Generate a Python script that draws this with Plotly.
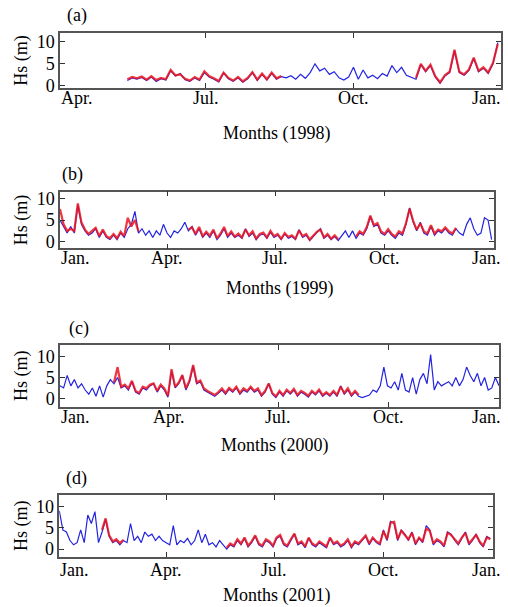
import pandas as pd
import plotly.graph_objects as go

# ---------------- data (Hs in metres, 3-day sampling) ----------------
# Panel (a) 1998
blue_a_start = "1998-05-13"
blue_a = [1.2, 1.8, 1.5, 1.9, 1.2, 2.0, 1.0, 1.6, 1.3, 3.4, 2.2, 2.8, 1.4, 1.0, 1.8, 1.2,
          3.0, 2.0, 1.5, 0.9, 2.9, 1.6, 1.0, 1.8, 0.8, 1.6, 3.0, 1.2, 2.6, 1.3, 2.8, 1.5,
          2.1, 1.8, 2.3, 1.5, 2.6, 1.7, 3.0, 5.0, 3.4, 4.0, 2.6, 3.2, 1.8, 1.3, 2.0, 4.2,
          1.5, 3.6, 1.8, 2.4, 1.6, 2.8, 2.2, 4.6, 3.0, 4.2, 2.4, 2.0, 1.5, 4.8, 3.2, 4.6,
          2.0, 0.6, 2.2, 3.0, 8.0, 3.0, 2.4, 3.5, 6.2, 3.2, 4.0, 2.8, 5.0, 9.8]
red_a_starts = ["1998-05-13", "1998-11-09"]
red_a_vals = [
    [1.5, 2.0, 1.7, 2.1, 1.4, 2.2, 1.3, 1.8, 1.5, 3.6, 2.4, 2.6, 1.6, 1.2, 2.0, 1.4,
     3.3, 2.2, 1.7, 1.1, 3.0, 1.8, 1.2, 2.0, 1.0, 1.8, 3.1, 1.4, 2.8, 1.5, 3.0, 1.7, 2.2],
    [1.8, 5.0, 3.4, 4.8, 2.2, 0.8, 2.4, 3.2, 8.2, 3.2, 2.6, 3.7, 6.4, 3.4, 4.2, 3.0,
     5.2, 9.5],
]

# Panel (b) 1999
blue_b_start = "1999-01-01"
blue_b = [5.0, 3.5, 2.0, 3.5, 2.0, 8.5, 4.0, 2.5, 1.5, 2.0, 3.0, 1.0, 2.5, 1.0, 0.5, 1.5,
          0.5, 2.0, 1.0, 3.0, 4.0, 7.0, 2.0, 3.0, 1.5, 2.5, 1.0, 2.5, 1.5, 4.0, 2.0, 1.0,
          2.5, 2.0, 3.0, 4.5, 2.5, 3.5, 1.5, 3.0, 1.0, 2.0, 1.0, 2.5, 0.5, 1.5, 3.0, 1.0,
          2.0, 1.0, 1.5, 0.8, 3.0, 1.2, 2.0, 0.5, 1.5, 1.8, 0.8, 2.2, 1.0, 1.5, 0.5, 1.8,
          0.8, 1.2, 0.5, 2.8, 1.0, 1.5, 0.3, 1.2, 2.0, 3.0, 0.8, 1.5, 0.5, 1.2, 0.3, 1.5,
          2.5, 1.0, 2.5, 0.8, 2.0, 1.5, 3.0, 5.8, 3.5, 4.0, 2.0, 1.5, 2.5, 1.5, 0.8, 2.0,
          1.5, 4.0, 7.8, 4.5, 2.5, 4.5, 2.0, 1.5, 3.5, 1.5, 2.5, 2.0, 3.0, 2.0, 1.5, 3.0,
          2.0, 1.5, 4.0, 5.5, 3.0, 1.5, 2.0, 5.5, 5.0, 0.5]
red_b_starts = ["1999-01-01", "1999-04-19", "1999-09-07"]
red_b_vals = [
    [7.5, 4.0, 2.5, 3.0, 2.5, 8.8, 4.5, 2.8, 1.8, 2.4, 3.2, 1.3, 2.8, 1.3, 0.8, 1.8,
     0.8, 2.3, 1.3, 5.5, 3.5, 5.0, 2.4],
    [2.8, 3.3, 1.8, 3.4, 1.3, 2.3, 1.4, 2.8, 0.8, 1.9, 3.4, 1.3, 2.4, 1.2, 1.9, 1.0,
     2.8, 1.5, 2.4, 0.7, 1.8, 2.1, 1.0, 2.5, 1.3, 1.8, 0.7, 2.0, 1.1, 1.5, 0.7, 2.6,
     1.3, 1.8, 0.5, 1.5, 2.3, 2.8, 1.0, 1.8, 0.7, 1.5, 0.6],
    [1.2, 2.4, 1.8, 3.4, 6.0, 3.8, 4.3, 2.4, 1.8, 2.9, 1.8, 1.2, 2.4, 1.9, 4.3, 7.6,
     4.8, 2.8, 4.2, 2.4, 1.9, 3.8, 1.9, 2.8, 2.4, 3.3, 2.4, 1.9, 3.2],
]

# Panel (c) 2000
blue_c_start = "2000-01-01"
blue_c = [3.0, 2.5, 5.5, 3.0, 4.5, 2.5, 3.5, 2.0, 1.0, 2.5, 0.5, 3.0, 0.3, 3.0, 4.5, 3.5,
          5.0, 2.5, 3.0, 2.0, 4.0, 1.5, 1.0, 2.5, 2.0, 3.0, 3.5, 1.5, 3.0, 2.0, 0.3, 6.5,
          2.5, 3.5, 5.5, 2.0, 4.0, 7.8, 3.5, 4.0, 2.0, 1.5, 1.0, 0.5, 1.2, 2.0, 1.0, 2.2,
          1.5, 2.5, 1.0, 2.0, 1.5, 2.5, 1.5, 2.0, 0.5, 1.5, 3.5, 1.0, 0.2, 1.5, 0.5, 1.8,
          1.0, 2.0, 0.5, 1.5, 1.0, 0.3, 1.5, 0.8, 1.8, 0.5, 1.2, 0.5, 1.5, 0.5, 3.0, 1.0,
          2.0, 0.5, 1.5, 0.5, 0.2, 0.5, 0.8, 2.0, 1.5, 3.0, 7.5, 3.0, 2.5, 4.0, 2.0, 6.0,
          2.0, 1.5, 5.0, 1.0, 4.5, 6.0, 3.5, 10.5, 2.0, 4.0, 3.0, 3.5, 4.0, 3.0, 5.0, 3.0,
          4.5, 7.5, 5.5, 4.0, 6.0, 3.0, 5.0, 2.0, 2.5, 5.0, 3.0]
red_c_starts = ["2000-02-15"]
red_c_vals = [
    [3.8, 7.5, 2.8, 3.3, 2.4, 4.2, 1.8, 1.3, 2.8, 2.4, 3.3, 3.6, 1.8, 3.3, 2.4, 0.6,
     7.0, 2.8, 3.8, 5.6, 2.4, 4.3, 8.0, 3.8, 4.3, 2.4, 1.8, 1.3, 0.8, 1.5, 2.4, 1.3,
     2.5, 1.8, 2.8, 1.3, 2.4, 1.8, 2.8, 1.8, 2.4, 0.8, 1.8, 3.6, 1.3, 0.5, 1.8, 0.8,
     2.1, 1.3, 2.3, 0.8, 1.8, 1.3, 0.6, 1.8, 1.1, 2.1, 0.8, 1.5, 0.8, 1.8, 0.8, 2.8,
     1.3, 2.4, 0.8, 1.8, 0.8],
]

# Panel (d) 2001
blue_d_start = "2001-01-01"
blue_d = [9.0, 4.5, 4.0, 2.0, 1.0, 1.5, 4.5, 1.5, 8.0, 6.0, 8.8, 1.5, 4.0, 7.0, 3.0, 1.5,
          2.0, 1.0, 2.0, 1.5, 6.0, 2.0, 3.0, 1.5, 4.0, 3.0, 3.5, 2.0, 3.0, 2.0, 1.5, 1.0,
          5.5, 1.0, 2.0, 1.5, 2.5, 1.0, 2.0, 4.5, 1.5, 3.5, 1.0, 1.5, 0.5, 2.0, 1.0, 0.0,
          1.0, 0.5, 2.0, 1.0, 2.5, 0.5, 1.5, 3.0, 1.0, 0.5, 2.0, 1.5, 0.5, 2.5, 3.0, 1.0,
          0.5, 2.0, 3.5, 1.0, 1.5, 0.3, 2.5, 1.0, 0.5, 1.5, 1.0, 0.3, 2.5, 1.0, 1.5, 0.5,
          1.0, 2.0, 0.3, 1.5, 1.0, 2.0, 3.0, 1.0, 2.5, 1.5, 1.0, 4.5, 2.0, 6.5, 6.0, 2.0,
          4.5, 3.5, 2.0, 4.0, 1.0, 2.5, 1.5, 5.5, 4.5, 1.0, 2.0, 1.5, 0.5, 4.0, 3.5, 2.0,
          1.0, 2.5, 4.0, 1.0, 2.0, 3.5, 1.5, 0.5, 3.0, 2.5]
red_d_starts = ["2001-02-06", "2001-05-22"]
red_d_vals = [
    [4.5, 7.2, 3.2, 1.8, 2.3, 1.4, 2.2],
    [0.3, 1.3, 0.8, 2.3, 1.3, 2.7, 0.8, 1.8, 3.2, 1.3, 0.8, 2.3, 1.8, 0.8, 2.7, 3.3,
     1.3, 0.8, 2.3, 3.6, 1.3, 1.8, 0.6, 2.7, 1.3, 0.8, 1.8, 1.3, 0.6, 2.7, 1.3, 1.8,
     0.8, 1.3, 2.3, 0.6, 1.8, 1.3, 2.3, 3.2, 1.3, 2.7, 1.8, 1.3, 4.2, 2.3, 6.2, 6.4,
     2.3, 4.3, 3.3, 2.3, 3.8, 1.3, 2.7, 1.8, 4.8, 4.3, 1.3, 2.3, 1.8, 0.8, 3.8, 3.3,
     2.3, 1.3, 2.7, 3.8, 1.3, 2.3, 3.3, 1.8, 0.8, 2.7, 2.3],
]

panel_labels = ["(a)", "(b)", "(c)", "(d)"]
x_titles = ["Months (1998)", "Months (1999)", "Months (2000)", "Months (2001)"]
x_ranges = [("1998-04-01", "1999-01-01"), ("1999-01-01", "2000-01-01"),
            ("2000-01-01", "2001-01-01"), ("2001-01-01", "2002-01-01")]
tick_dates = [["1998-04-01", "1998-07-01", "1998-10-01", "1999-01-01"],
              ["1999-01-01", "1999-04-01", "1999-07-01", "1999-10-01", "2000-01-01"],
              ["2000-01-01", "2000-04-01", "2000-07-01", "2000-10-01", "2001-01-01"],
              ["2001-01-01", "2001-04-01", "2001-07-01", "2001-10-01", "2002-01-01"]]
tick_texts = [["Apr.", "Jul.", "Oct.", "Jan."],
              ["Jan.", "Apr.", "Jul.", "Oct.", "Jan."],
              ["Jan.", "Apr.", "Jul.", "Oct.", "Jan."],
              ["Jan.", "Apr.", "Jul.", "Oct.", "Jan."]]
y_ticks = [0, 5, 10]
y_title = "Hs (m)"

# ---------------- layout geometry ----------------
W, H = 508, 607
boxes = [(60, 501, 33, 88), (60, 494, 191.7, 248.3), (60, 499, 345, 406.7), (59.3, 492.7, 495, 556.7)]
y_ranges = [(-0.5, 12), (-1.5, 11.5), (-2.0, 12.8), (-1.8, 12.7)]
label_pos = [(77, 15), (72, 175), (79, 328), (76, 478)]
xtitle_pos = [(277, 133), (280, 288), (275, 445), (277, 595)]
ticklab_y = [98, 258, 417, 570]

BLUE = "rgb(35,35,225)"
RED = "rgba(235,20,30,0.85)"
FONT = "Liberation Serif, Times New Roman, serif"
FS = 18

blue_starts = [blue_a_start, blue_b_start, blue_c_start, blue_d_start]
blue_vals = [blue_a, blue_b, blue_c, blue_d]
red_starts = [red_a_starts, red_b_starts, red_c_starts, red_d_starts]
red_vals = [red_a_vals, red_b_vals, red_c_vals, red_d_vals]

fig = go.Figure()
annotations = []
layout = {}
for i in range(4):
    sfx = "" if i == 0 else str(i + 1)
    xa, ya = "x" + sfx, "y" + sfx
    bdates = pd.date_range(blue_starts[i], periods=len(blue_vals[i]), freq="3D")
    fig.add_trace(go.Scatter(x=bdates, y=blue_vals[i], mode="lines",
                             line=dict(color=BLUE, width=1.2), xaxis=xa, yaxis=ya,
                             showlegend=False, hoverinfo="skip"))
    for st, vals in zip(red_starts[i], red_vals[i]):
        rdates = pd.date_range(st, periods=len(vals), freq="3D")
        fig.add_trace(go.Scatter(x=rdates, y=vals, mode="lines",
                                 line=dict(color=RED, width=2.2), xaxis=xa, yaxis=ya,
                                 showlegend=False, hoverinfo="skip"))
    x0, x1, yt, yb = boxes[i]
    layout["xaxis" + sfx] = dict(
        domain=[x0 / W, x1 / W], anchor=ya, type="date", automargin=False,
        range=list(x_ranges[i]), tickvals=tick_dates[i], showticklabels=False,
        ticks="inside", ticklen=5, tickcolor="#333", mirror="ticks",
        showline=True, linecolor="#555", linewidth=1.5, showgrid=False, zeroline=False,
    )
    layout["yaxis" + sfx] = dict(
        domain=[1 - yb / H, 1 - yt / H], anchor=xa, range=list(y_ranges[i]), automargin=False,
        tickvals=y_ticks, ticks="inside", ticklen=5, tickcolor="#333", mirror="ticks",
        showline=True, linecolor="#555", linewidth=1.5, showgrid=False, zeroline=False,
        tickfont=dict(family=FONT, size=FS, color="black"),
        title=dict(text=y_title, font=dict(family=FONT, size=FS, color="black"), standoff=4),
    )
    lx, ly = label_pos[i]
    annotations.append(dict(text=panel_labels[i], x=lx / W, y=1 - ly / H, xref="paper", yref="paper",
                            showarrow=False, xanchor="center", yanchor="middle",
                            font=dict(family=FONT, size=FS, color="black")))
    tx, ty = xtitle_pos[i]
    annotations.append(dict(text=x_titles[i], x=tx / W, y=1 - ty / H, xref="paper", yref="paper",
                            showarrow=False, xanchor="center", yanchor="middle",
                            font=dict(family=FONT, size=FS, color="black")))
    # month tick labels placed on the axis' own date scale
    n = len(tick_dates[i])
    for k, (td, tx_) in enumerate(zip(tick_dates[i], tick_texts[i])):
        anchor = "left" if k == 0 else ("right" if k == n - 1 else "center")
        shift = -1 if k == 0 else (503 - x1 if k == n - 1 else 0)
        annotations.append(dict(text=tx_, x=td, xref=xa, y=1 - ticklab_y[i] / H, yref="paper",
                                xshift=shift, showarrow=False, xanchor=anchor, yanchor="middle",
                                font=dict(family=FONT, size=FS, color="black")))

fig.update_layout(width=W, height=H, margin=dict(l=0, r=0, t=0, b=0, autoexpand=False),
                  paper_bgcolor="white", plot_bgcolor="white",
                  annotations=annotations, **layout)
fig.write_html("out.html", config={"displayModeBar": False},
               post_script="document.body.style.margin='0';document.body.style.overflow='hidden';")
